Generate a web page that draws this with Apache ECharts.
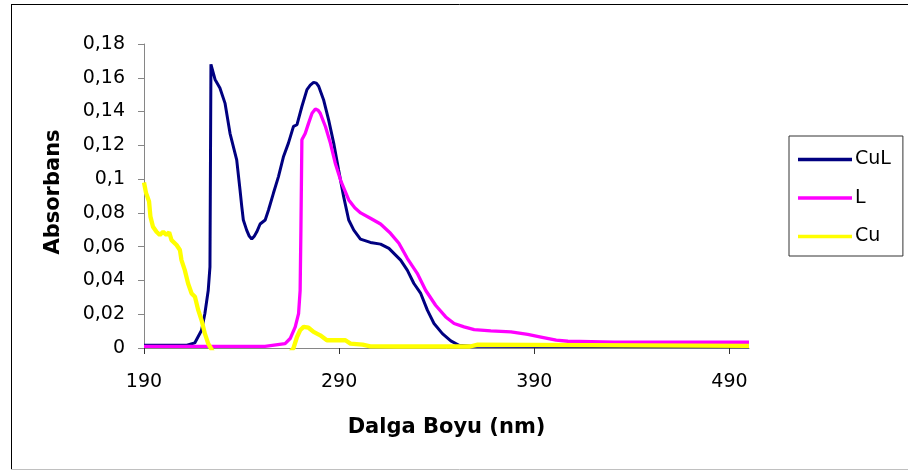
<!DOCTYPE html>
<html>
<head>
<meta charset="utf-8">
<script src="https://cdn.jsdelivr.net/npm/echarts@6/dist/echarts.min.js"></script>
<style>html,body{margin:0;padding:0;background:#fff}#c{width:908px;height:470px}</style>
</head>
<body>
<div id="c"></div>
<script>
const seriesNames = ['CuL', 'L', 'Cu'];
const xTickLabels = [190, 290, 390, 490];

const culX = [190, 200, 212, 216, 219.5, 221.2, 222.9, 223.8, 224.3, 226.4, 228.9, 231.5, 234.1, 237.5, 239.2, 240.1, 240.9, 242.6, 243.8, 245.2, 246.5, 247.8, 249.5, 252.1, 253.8, 256.3, 258.9, 261.5, 264, 266.6, 268.4, 270.9, 273.5, 275.2, 276.9, 278.3, 279.5, 282, 284.6, 287.2, 289.7, 292.3, 294.9, 297.5, 300.9, 306, 311.2, 315.5, 321.5, 324.9, 328.3, 331.8, 335.2, 338.6, 342.9, 347.2, 351.4, 357.5, 500];
const culY = [0.0016, 0.0016, 0.0016, 0.003, 0.0105, 0.0204, 0.034, 0.048, 0.168, 0.159, 0.154, 0.145, 0.127, 0.1114, 0.0936, 0.0837, 0.0758, 0.0698, 0.0665, 0.0645, 0.0662, 0.0688, 0.0734, 0.0758, 0.0817, 0.0916, 0.1015, 0.1134, 0.1213, 0.1312, 0.1322, 0.143, 0.153, 0.1556, 0.1573, 0.1568, 0.155, 0.147, 0.1351, 0.1213, 0.1055, 0.0896, 0.0758, 0.0698, 0.0645, 0.0625, 0.0615, 0.059, 0.052, 0.0461, 0.0382, 0.0323, 0.0224, 0.0145, 0.0085, 0.0042, 0.0016, 0.001, 0.0008];

const lX = [190, 252, 262.3, 264.9, 267.5, 269.2, 270, 270.4, 270.9, 272.6, 274.3, 276.1, 277.8, 279.2, 280.3, 283, 285.5, 288, 291, 294.9, 298, 301, 306, 311.2, 316.3, 320.6, 324.9, 330, 334.3, 339.4, 344.6, 348.9, 354, 359.2, 367.7, 378, 386.6, 393.4, 401.2, 407.2, 431, 441, 441.5, 442, 500];
const lY = [0.001, 0.001, 0.0026, 0.0056, 0.0125, 0.0204, 0.034, 0.07, 0.1233, 0.127, 0.133, 0.139, 0.1415, 0.1408, 0.139, 0.131, 0.1213, 0.1094, 0.0985, 0.0877, 0.083, 0.080, 0.0768, 0.0734, 0.0679, 0.062, 0.0531, 0.0442, 0.0342, 0.0253, 0.0184, 0.0145, 0.0125, 0.0109, 0.0101, 0.0095, 0.008, 0.0065, 0.0046, 0.004, 0.0034, 0.0034, 0.0045, 0.0034, 0.0034];

const cuX = [190, 191, 192.6, 193.3, 194.6, 196.4, 198.1, 199.8, 201.5, 202.9, 204.1, 206.7, 208.4, 209.2, 210.9, 212.6, 214.4, 216.1, 217.8, 219.5, 221.2, 222.9, 224.7, 226, 264, 266.6, 268.4, 270, 271.8, 274.3, 276.9, 280.3, 283.7, 293.2, 295.8, 302, 306, 320, 357, 358, 361, 362, 500];
const cuY = [0.098, 0.092, 0.0867, 0.0778, 0.0718, 0.0688, 0.0669, 0.0688, 0.067, 0.0685, 0.0639, 0.061, 0.058, 0.052, 0.0461, 0.0382, 0.0323, 0.0303, 0.0224, 0.0164, 0.0085, 0.0026, -0.001, -0.004, -0.004, 0, 0.0065, 0.0105, 0.0125, 0.012, 0.0095, 0.0075, 0.0046, 0.0046, 0.0026, 0.002, 0.001, 0.0009, 0.0009, 0.002, 0.002, 0.0009, 0.0012];

const zip = (xs, ys) => xs.map((x, i) => [x, ys[i]]);
const FONT = 'DejaVu Sans';

const chart = echarts.init(document.getElementById('c'), null, {renderer: 'canvas'});
chart.setOption({
  animation: false,
  backgroundColor: '#ffffff',
  grid: {left: 144, right: 159, top: 44, bottom: 122},
  legend: {
    orient: 'vertical',
    left: 789, top: 136,
    width: 117,
    padding: [14, 12, 10, 9],
    icon: 'rect',
    itemWidth: 54, itemHeight: 3.5, itemGap: 19.5,
    borderColor: '#333', borderWidth: 1,
    textStyle: {fontFamily: FONT, fontSize: 19, color: '#000', padding: [0, 0, 0, -2]},
    data: seriesNames
  },
  xAxis: {
    type: 'value', min: 190, max: 500,
    name: 'Dalga Boyu (nm)', nameLocation: 'middle', nameGap: 69,
    nameTextStyle: {fontFamily: FONT, fontSize: 21, fontWeight: 'bold', color: '#000'},
    axisLine: {show: true, lineStyle: {color: '#868686', width: 1}},
    axisTick: {show: true, length: 6, lineStyle: {color: '#333'}, customValues: xTickLabels},
    axisLabel: {fontFamily: FONT, fontSize: 19, color: '#000', margin: 25, customValues: xTickLabels},
    splitLine: {show: false}
  },
  yAxis: {
    type: 'value', min: 0, max: 0.18, interval: 0.02,
    name: 'Absorbans', nameLocation: 'middle', nameGap: 80, nameRotate: 90,
    nameTextStyle: {fontFamily: FONT, fontSize: 21, fontWeight: 'bold', color: '#000', padding: [0, 0, 0, 8]},
    axisLine: {show: true, lineStyle: {color: '#868686', width: 1}},
    axisTick: {show: true, length: 6, lineStyle: {color: '#868686'}},
    axisLabel: {fontFamily: FONT, fontSize: 19, color: '#000', margin: 19,
      formatter: v => String(+v.toFixed(2)).replace('.', ',')},
    splitLine: {show: false}
  },
  series: [
    {name: 'CuL', type: 'line', data: zip(culX, culY), showSymbol: false, symbol: 'none',
     color: '#000080', lineStyle: {color: '#000080', width: 3}, clip: true},
    {name: 'L', type: 'line', data: zip(lX, lY), showSymbol: false, symbol: 'none',
     color: '#FF00FF', lineStyle: {color: '#FF00FF', width: 3.3}, clip: true},
    {name: 'Cu', type: 'line', data: zip(cuX, cuY), showSymbol: false, symbol: 'none',
     color: '#FFFF00', lineStyle: {color: '#FFFF00', width: 4.3}, clip: true}
  ],
  graphic: [
    {type: 'line', shape: {x1: 11, y1: 4.5, x2: 908, y2: 4.5}, style: {stroke: '#000', lineWidth: 1}},
    {type: 'line', shape: {x1: 11.5, y1: 4, x2: 11.5, y2: 470}, style: {stroke: '#000', lineWidth: 1}},
    {type: 'line', shape: {x1: 11, y1: 469.5, x2: 908, y2: 469.5}, style: {stroke: '#c0c0c0', lineWidth: 1}}
  ]
});
</script>
</body>
</html>
